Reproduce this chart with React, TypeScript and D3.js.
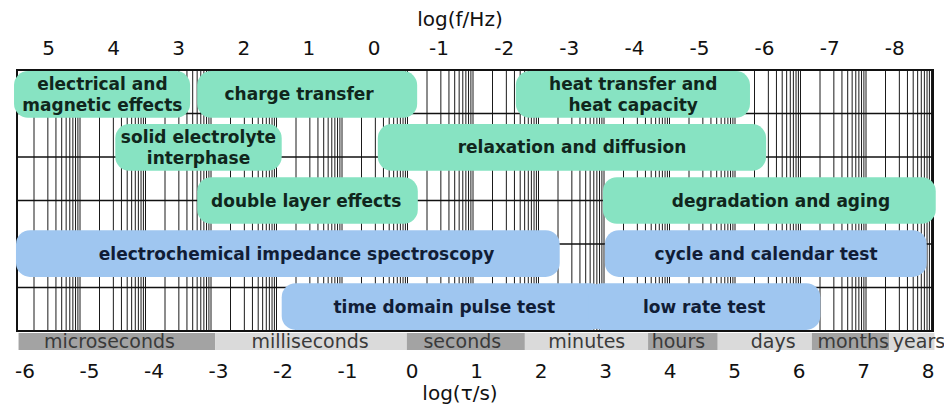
import React from "react";
import * as d3 from "d3";

const tauTicks = [-6, -5, -4, -3, -2, -1, 0, 1, 2, 3, 4, 5, 6, 7, 8];
const freqTicks = [5, 4, 3, 2, 1, 0, -1, -2, -3, -4, -5, -6, -7, -8];
const gridDecades = [-6, -5, -4, -3, -2, -1, 0, 1, 2, 3, 4, 5, 6, 7, 8];
const gridSteps = [1, 2, 3, 4, 5, 6, 7, 8, 9, 10];

const bandNames = ["microseconds", "milliseconds", "seconds", "minutes", "hours", "days", "months", "years"];
const bandStart = [-6.1, -3.05, -0.08, 1.75, 3.66, 4.74, 6.2, 7.4];
const bandEnd = [-3.05, -0.08, 1.75, 3.66, 4.74, 6.2, 7.4, 8.1];
const bandLabelAt = [-4.69, -1.58, 0.78, 2.71, 4.13, 5.6, 6.84, 7.86];
const bandDark = [true, false, true, false, true, false, true, false];

const boxLines = [
  ["electrical and", "magnetic effects"],
  ["charge transfer"],
  ["heat transfer and", "heat capacity"],
  ["solid electrolyte", "interphase"],
  ["relaxation and diffusion"],
  ["double layer effects"],
  ["degradation and aging"],
  ["electrochemical impedance spectroscopy"],
  ["cycle and calendar test"],
  ["time domain pulse test"],
  ["low rate test"],
];
const boxFrom = [-6.17, -3.33, 1.61, -4.6, -0.53, -3.33, 2.96, -6.14, 2.99, -2.02, 2.73];
const boxTo = [-3.44, 0.08, 5.24, -2.02, 5.49, 0.09, 8.12, 2.29, 7.98, 2.99, 6.33];
const boxLabelAt = [-4.8, -1.75, 3.43, -3.31, 2.48, -1.64, 5.72, -1.79, 5.49, 0.5, 4.53];
const boxRow = [0, 0, 0, 1, 1, 2, 2, 3, 3, 4, 4];
const boxKind = ["phys", "phys", "phys", "phys", "phys", "phys", "phys", "test", "test", "test", "test"];

const W = 944;
const H = 408;
const FRAME = { l: 17, r: 933, t: 70, b: 331 };
const FONT = "'DejaVu Sans', Verdana, sans-serif";

export default function App() {
  const x = d3.scaleLinear().domain([0, 1]).range([412, 476.5]);
  const xGrid = d3.scaleLinear().domain([0, 1]).range([407.5, 473]);
  const xf = d3.scaleLinear().domain([0, 1]).range([374, 308.9]);
  const rows = d3.scaleBand<number>().domain([0, 1, 2, 3, 4]).range([FRAME.t, FRAME.b]).paddingInner(0.12).paddingOuter(0.02);
  const hLines = d3.range(1, 6).map((i) => FRAME.t + ((FRAME.b - FRAME.t) * i) / 6);
  const cycle = 46;

  const vLines: number[] = [];
  gridDecades.forEach((n) => {
    gridSteps.forEach((k) => {
      const px = xGrid(n) - cycle + cycle * Math.log10(k);
      if (px > FRAME.l + 1 && px < FRAME.r - 1) vLines.push(px);
    });
  });

  const fillOf = (k: string) => (k === "phys" ? "#87e3c2" : "#9fc6f0");
  const textOf = (k: string) => (k === "phys" ? "#10261c" : "#111d36");

  return (
    <svg width={W} height={H} style={{ position: "absolute", left: 0, top: 0, background: "#fff" }} fontFamily={FONT}>
      <rect x={0} y={0} width={W} height={H} fill="#fff" />
      {/* grid */}
      <g>
        {vLines.map((px, i) => (
          <line key={"v" + i} x1={px} x2={px} y1={FRAME.t} y2={FRAME.b} stroke="#1a1a1a" strokeWidth={1} />
        ))}
        {hLines.map((py, i) => (
          <line key={"h" + i} x1={FRAME.l} x2={FRAME.r} y1={py} y2={py} stroke="#111" strokeWidth={1.3} />
        ))}
        <rect x={FRAME.l} y={FRAME.t} width={FRAME.r - FRAME.l} height={FRAME.b - FRAME.t} fill="none" stroke="#111" strokeWidth={2} />
      </g>
      {/* boxes */}
      <g>
        {boxLines.map((lines, i) => {
          const x0 = x(boxFrom[i]);
          const x1 = x(boxTo[i]);
          const y0 = rows(boxRow[i])!;
          const h = rows.bandwidth();
          return (
            <rect key={"b" + i} x={x0} y={y0} width={x1 - x0} height={h} rx={14} ry={14} fill={fillOf(boxKind[i])} />
          );
        })}
        {boxLines.map((lines, i) => {
          const y0 = rows(boxRow[i])!;
          const h = rows.bandwidth();
          const cx = x(boxLabelAt[i]);
          const cy = y0 + h / 2;
          const lh = 21;
          return (
            <text key={"t" + i} x={cx} textAnchor="middle" fontSize={17} fontWeight="bold" fill={textOf(boxKind[i])}>
              {lines.map((ln, j) => (
                <tspan key={j} x={cx} y={cy + (j - (lines.length - 1) / 2) * lh + 6}>
                  {ln}
                </tspan>
              ))}
            </text>
          );
        })}
      </g>
      {/* time band */}
      <g>
        {bandNames.map((nm, i) => (
          <rect key={"br" + i} x={x(bandStart[i])} y={333} width={x(bandEnd[i]) - x(bandStart[i])} height={17} fill={bandDark[i] ? "#a3a3a3" : "#dadada"} />
        ))}
        {bandNames.map((nm, i) => (
          <text key={"bt" + i} x={x(bandLabelAt[i])} y={348} textAnchor="middle" fontSize={19} fill="#3a3a3a">
            {nm}
          </text>
        ))}
      </g>
      {/* bottom axis */}
      <g>
        {tauTicks.map((t) => (
          <text key={"tt" + t} x={x(t)} y={378} textAnchor="middle" fontSize={20} fill="#111">
            {t < 0 ? "-" + Math.abs(t) : String(t)}
          </text>
        ))}
        <text x={460} y={400} textAnchor="middle" fontSize={20} fill="#111">log(τ/s)</text>
      </g>
      {/* top axis */}
      <g>
        {freqTicks.map((f) => (
          <text key={"ft" + f} x={xf(f)} y={55} textAnchor="middle" fontSize={20} fill="#111">
            {f < 0 ? "-" + Math.abs(f) : String(f)}
          </text>
        ))}
        <text x={460} y={26} textAnchor="middle" fontSize={20} fill="#111">log(f/Hz)</text>
      </g>
    </svg>
  );
}
